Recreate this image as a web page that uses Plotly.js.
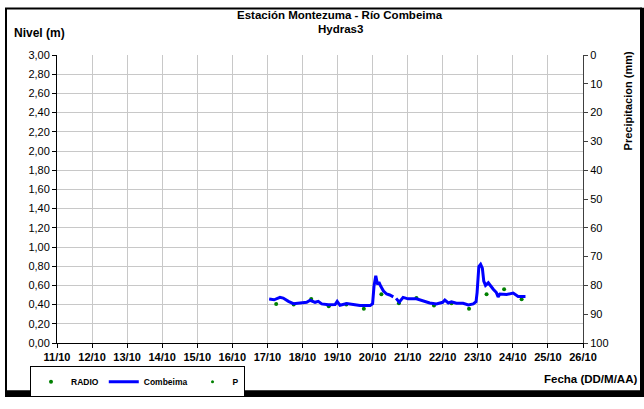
<!DOCTYPE html>
<html>
<head>
<meta charset="utf-8">
<script src="https://cdn.plot.ly/plotly-3.0.1.min.js"></script>
<style>
html,body{margin:0;padding:0;background:#fff;}
#chart{width:644px;height:409px;}
</style>
</head>
<body>
<div id="chart"></div>
<script>
// ---- data ----
const levelTimes = [
  "2012-10-17 01:12","2012-10-17 04:34","2012-10-17 08:38","2012-10-17 10:48","2012-10-17 14:24",
  "2012-10-17 17:46","2012-10-17 22:19","2012-10-18 02:53","2012-10-18 05:17","2012-10-18 06:29",
  "2012-10-18 08:38","2012-10-18 10:48","2012-10-18 13:12","2012-10-18 17:46","2012-10-18 22:19",
  "2012-10-18 23:46","2012-10-19 01:41","2012-10-19 06:14","2012-10-19 10:48","2012-10-19 15:22",
  "2012-10-19 22:19","2012-10-20 00:00","2012-10-20 00:58","2012-10-20 02:10","2012-10-20 03:22",
  "2012-10-20 04:19","2012-10-20 05:31","2012-10-20 07:26","2012-10-20 09:36","2012-10-20 11:46",
  "2012-10-20 14:10","2012-10-20 15:00","2012-10-20 16:05","2012-10-20 18:14","2012-10-20 20:53",
  "2012-10-21 00:14","2012-10-21 06:00","2012-10-21 10:34","2012-10-21 15:07","2012-10-21 19:41",
  "2012-10-22 00:00","2012-10-22 01:26","2012-10-22 03:50","2012-10-22 06:00","2012-10-22 09:22",
  "2012-10-22 13:55","2012-10-22 17:31","2012-10-22 20:53","2012-10-22 22:48","2012-10-22 23:31",
  "2012-10-23 00:43","2012-10-23 01:55","2012-10-23 03:07","2012-10-23 04:05","2012-10-23 05:17",
  "2012-10-23 07:12","2012-10-23 08:38","2012-10-23 10:34","2012-10-23 12:43","2012-10-23 13:55",
  "2012-10-23 15:07","2012-10-23 19:41","2012-10-24 00:14","2012-10-24 02:38","2012-10-24 03:36",
  "2012-10-24 08:38"
];
const combeimaLevel = [
  0.458,0.450,0.475,0.468,0.434,
  0.410,0.417,0.424,0.445,0.440,
  0.424,0.434,0.407,0.398,0.400,
  0.434,0.393,0.410,0.400,0.390,
  0.390,0.410,0.593,0.700,0.610,
  0.634,0.593,0.542,0.510,0.500,
  0.480,null,0.465,0.425,0.475,
  0.460,0.460,0.440,0.417,0.407,
  0.424,0.447,0.417,0.430,0.414,
  0.414,0.397,0.407,0.430,0.525,
  0.797,0.820,0.780,0.644,0.600,
  0.627,0.593,0.560,0.525,0.480,
  0.510,0.505,0.520,0.500,0.485,
  0.485
];
const radioTimes = [
  "2012-10-17 06:00","2012-10-17 18:00","2012-10-18 06:00","2012-10-18 18:00","2012-10-19 06:00",
  "2012-10-19 18:00","2012-10-20 06:00","2012-10-20 18:00","2012-10-21 06:00","2012-10-21 18:00",
  "2012-10-22 06:00","2012-10-22 18:00","2012-10-23 06:00","2012-10-23 18:00","2012-10-24 06:00"
];
const radioLevel = [0.407,0.400,0.458,0.383,0.400,0.356,0.508,0.414,0.468,0.390,0.414,0.356,0.508,0.560,0.455];
const precipTimes = ["2012-10-11"];
const precipValues = [null];
const levelTicks = [0,0.2,0.4,0.6,0.8,1.0,1.2,1.4,1.6,1.8,2.0,2.2,2.4,2.6,2.8,3.0];
const precipTicks = [0,10,20,30,40,50,60,70,80,90,100];

// ---- layout helpers (pixel -> paper) ----
const L = 57, R = 583, T = 55, B = 353;
const W = 644, H = 409;
const px = x => (x - L) / (R - L);
const py = y => (B - y) / (B - T);
const F = "Liberation Sans";
const b = s => "<b>" + s + "</b>";

const traces = [
  {x: radioTimes, y: radioLevel, name: b("RADIO"), type: "scatter", mode: "markers",
   marker: {color: "#008000", size: 4}, yaxis: "y"},
  {x: levelTimes, y: combeimaLevel, name: b("Combeima"), type: "scatter", mode: "lines",
   line: {color: "#0000ff", width: 3}, connectgaps: false, yaxis: "y"},
  {x: precipTimes, y: precipValues, name: b("P"), type: "scatter", mode: "markers",
   marker: {color: "#008000", size: 3}, yaxis: "y2", showlegend: true}
];

const tickFont = {family: F, size: 11, color: "#000"};

const layout = {
  width: W, height: H,
  margin: {l: L, r: W - R, t: T, b: H - B, pad: 0},
  paper_bgcolor: "#fff", plot_bgcolor: "#fff",
  separators: ",.",
  showlegend: true,
  font: {family: F, color: "#000"},
  xaxis: {
    type: "date", range: ["2012-10-11", "2012-10-26"],
    tick0: "2012-10-11", dtick: 86400000, tickformat: "%d/%m",
    tickprefix: "<b>", ticksuffix: "</b>",
    showgrid: true, gridcolor: "#c8c8c8", gridwidth: 1,
    showline: true, linecolor: "#000", linewidth: 1,
    ticks: "outside", ticklen: 4, tickcolor: "#000",
    tickfont: tickFont, zeroline: false, mirror: false
  },
  yaxis: {
    range: [0, 3], tickvals: levelTicks, tickformat: ".2f",
    tickprefix: "<b>", ticksuffix: "</b>",
    showgrid: true, gridcolor: "#c8c8c8", gridwidth: 1,
    showline: true, linecolor: "#000", linewidth: 1,
    ticks: "outside", ticklen: 4, tickcolor: "#000",
    tickfont: tickFont, zeroline: false
  },
  yaxis2: {
    range: [100, 0], tickvals: precipTicks, overlaying: "y", side: "right",
    tickprefix: "<b>", ticksuffix: "</b>",
    showgrid: false, showline: true, linecolor: "#404040", linewidth: 1,
    ticks: "outside", ticklen: 4, tickcolor: "#404040",
    tickfont: tickFont, zeroline: false
  },
  yaxis3: {
    range: [100, 0], tickvals: precipTicks, overlaying: "y", side: "right",
    showgrid: false, showline: false, showticklabels: false,
    ticks: "inside", ticklen: 4, tickcolor: "#404040", zeroline: false
  },
  legend: {
    orientation: "h", x: px(30), y: py(377), xanchor: "left", yanchor: "top",
    bordercolor: "#000", borderwidth: 1, bgcolor: "#fff",
    font: {family: F, size: 8.5, color: "#000"},
    itemwidth: 30, tracegroupgap: 0
  },
  annotations: [
    {text: b("Estación Montezuma - Río Combeima"), xref: "paper", yref: "paper", x: px(340), y: py(14),
     xanchor: "center", yanchor: "middle", showarrow: false, font: {family: F, size: 11.5}},
    {text: b("Hydras3"), xref: "paper", yref: "paper", x: px(340), y: py(28),
     xanchor: "center", yanchor: "middle", showarrow: false, font: {family: F, size: 11.5}},
    {text: b("Nivel (m)"), xref: "paper", yref: "paper", x: px(12), y: py(32),
     xanchor: "left", yanchor: "middle", showarrow: false, font: {family: F, size: 12}},
    {text: b("Precipitacion (mm)"), xref: "paper", yref: "paper", x: px(628), y: py(103),
     xanchor: "center", yanchor: "middle", textangle: -90, showarrow: false, font: {family: F, size: 11}},
    {text: b("Fecha (DD/M/AA)"), xref: "paper", yref: "paper", x: px(639), y: py(390),
     xanchor: "right", yanchor: "middle", showarrow: false, font: {family: F, size: 11.5}}
  ],
  shapes: [
    {type: "rect", xref: "paper", yref: "paper", x0: px(6), x1: px(641), y0: py(404), y1: py(7),
     line: {color: "#000", width: 2}, fillcolor: "rgba(0,0,0,0)", layer: "below"},
    {type: "rect", xref: "paper", yref: "paper", x0: px(5), x1: px(644), y0: py(409), y1: py(402),
     line: {width: 0}, fillcolor: "#000", layer: "above"},
    {type: "rect", xref: "paper", yref: "paper", x0: px(640), x1: px(644), y0: py(409), y1: py(6),
     line: {width: 0}, fillcolor: "#000", layer: "above"}
  ]
};

Plotly.newPlot("chart", traces, layout, {staticPlot: true, displayModeBar: false});
</script>
</body>
</html>
